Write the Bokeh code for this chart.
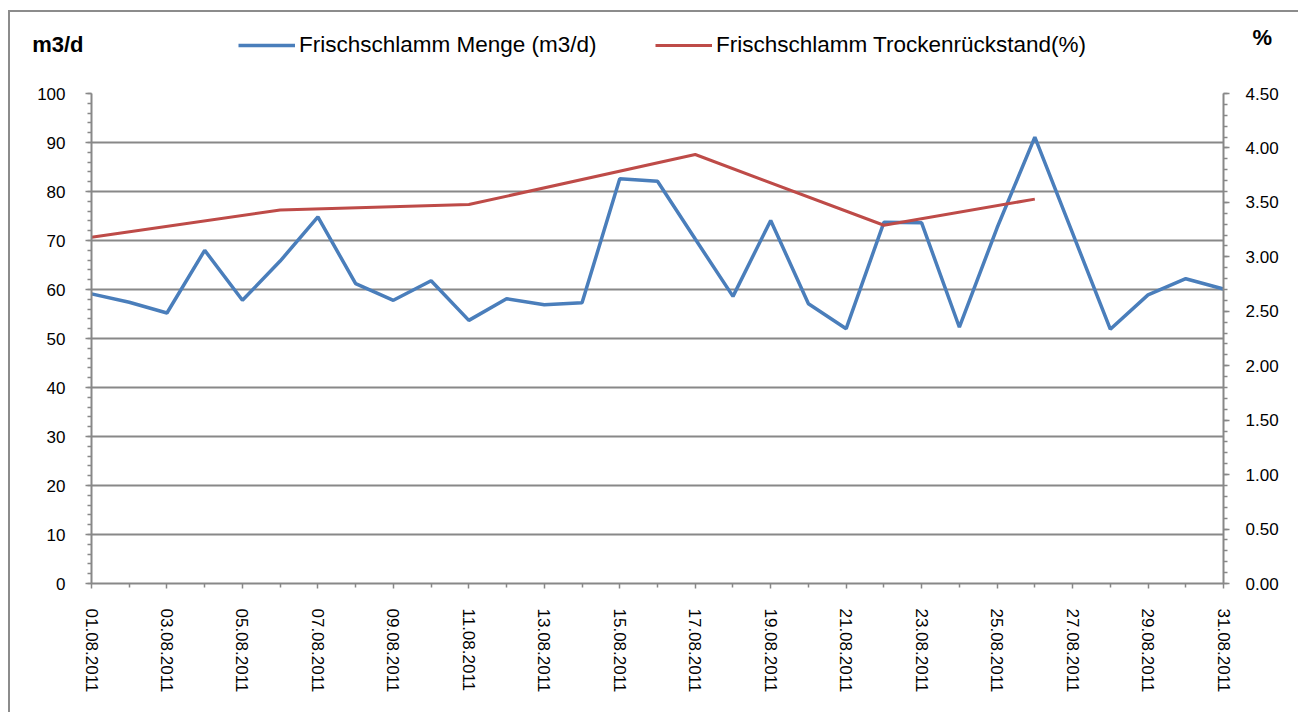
from bokeh.plotting import figure
from bokeh.models import (LinearAxis, Range1d, FixedTicker, Legend, LegendItem,
                          NumeralTickFormatter, Column)
from bokeh.embed import file_html
from bokeh.resources import INLINE

# ---- data ----
days = list(range(1, 32))
date_labels = ["01.08.2011", "02.08.2011", "03.08.2011", "04.08.2011", "05.08.2011",
               "06.08.2011", "07.08.2011", "08.08.2011", "09.08.2011", "10.08.2011",
               "11.08.2011", "12.08.2011", "13.08.2011", "14.08.2011", "15.08.2011",
               "16.08.2011", "17.08.2011", "18.08.2011", "19.08.2011", "20.08.2011",
               "21.08.2011", "22.08.2011", "23.08.2011", "24.08.2011", "25.08.2011",
               "26.08.2011", "27.08.2011", "28.08.2011", "29.08.2011", "30.08.2011",
               "31.08.2011"]
menge = [59.1, 57.4, 55.2, 68.0, 57.8, 65.8, 74.8, 61.2, 57.8, 61.8,
         53.7, 58.1, 56.9, 57.3, 82.6, 82.1, 70.3, 58.6, 74.1, 57.1,
         52.0, 73.7, 73.6, 52.3, 72.6, 91.1, 71.5, 51.9, 58.9, 62.2, 60.1]
tr_days = [1, 6, 11, 17, 22, 26]
tr_values = [3.18, 3.43, 3.48, 3.94, 3.29, 3.53]
left_ticks = [0, 10, 20, 30, 40, 50, 60, 70, 80, 90, 100]
right_ticks = [0.0, 0.5, 1.0, 1.5, 2.0, 2.5, 3.0, 3.5, 4.0, 4.5]
series_names = ["Frischschlamm Menge (m3/d)", "Frischschlamm Trockenrückstand(%)"]
unit_left = "m3/d"
unit_right = "%"

FONT = "Liberation Sans"
GRAY = "#888888"
BORDER = "#8c8c8c"
BLUE = "#4a7ebb"
RED = "#be4b48"
NAN = float("nan")

W = 1298
HEADER_H = 80
MAIN_H = 632
FRAME_L = 91     # page x of the plot frame's left edge (aligned for both figures)

# ---------------- header (legend + unit labels) ----------------
hdr = figure(width=W, height=HEADER_H, output_backend="svg", toolbar_location=None,
             x_range=Range1d(91, 1223), y_range=Range1d(HEADER_H, 0),
             x_axis_type=None, y_axis_type=None,
             min_border_left=0, min_border_right=0,
             min_border_top=0, min_border_bottom=0)
hdr.grid.visible = False
hdr.outline_line_color = None
hdr.background_fill_alpha = 0
hdr.border_fill_alpha = 0


def unit_axis(tick, text, standoff):
    ax = LinearAxis(ticker=FixedTicker(ticks=[tick], minor_ticks=[]),
                    major_label_overrides={tick: text})
    ax.axis_line_color = None
    ax.major_tick_line_color = None
    ax.minor_tick_line_color = None
    ax.major_tick_in = 0
    ax.major_tick_out = 0
    ax.minor_tick_in = 0
    ax.minor_tick_out = 0
    ax.major_label_standoff = standoff
    ax.major_label_text_font = FONT
    ax.major_label_text_font_size = "22px"
    ax.major_label_text_font_style = "bold"
    ax.major_label_text_color = "black"
    return ax


hdr.add_layout(unit_axis(44, unit_left, 8), "left")
hdr.add_layout(unit_axis(37, unit_right, 29), "right")

sw_blue = hdr.line(x=[NAN], y=[NAN], line_color=BLUE, line_width=3.5)
sw_red = hdr.line(x=[NAN], y=[NAN], line_color=RED, line_width=3)


def make_legend(label, r, x, y):
    return Legend(items=[LegendItem(label=label, renderers=[r])], location=(x, y),
                  orientation="horizontal", padding=0, margin=0, spacing=0,
                  border_line_alpha=0, background_fill_alpha=0,
                  glyph_width=57, glyph_height=26, label_standoff=4, label_height=26,
                  label_text_font=FONT, label_text_font_size="22.5px",
                  label_text_color="black", label_text_baseline="middle")


hdr.add_layout(make_legend(series_names[0], sw_blue, 238 - FRAME_L, 22))
hdr.add_layout(make_legend(series_names[1], sw_red, 655 - FRAME_L, 22))

# ---------------- main chart ----------------
p = figure(width=W, height=MAIN_H, output_backend="svg", toolbar_location=None,
           x_range=Range1d(1, 31), y_range=Range1d(0, 100),
           min_border_left=FRAME_L, min_border_right=75, min_border_top=13,
           min_border_bottom=129)
p.outline_line_color = None
p.background_fill_color = "white"
p.border_fill_alpha = 0

p.extra_y_ranges = {"pct": Range1d(0, 4.5)}

blue_r = p.line(days, menge, line_color=BLUE, line_width=3.5)
red_r = p.line(tr_days, tr_values, y_range_name="pct", line_color=RED, line_width=3)


def style_axis(ax, standoff):
    ax.major_label_text_font = FONT
    ax.major_label_text_font_size = "17px"
    ax.major_label_text_color = "black"
    ax.major_label_standoff = standoff
    ax.axis_line_color = GRAY
    ax.axis_line_width = 2
    ax.major_tick_line_color = GRAY
    ax.minor_tick_line_color = GRAY
    ax.major_tick_in = 0
    ax.major_tick_out = 6
    ax.minor_tick_in = 0
    ax.minor_tick_out = 4
    ax.major_tick_line_width = 1.5
    ax.minor_tick_line_width = 1.5


xa = p.xaxis[0]
xa.ticker = FixedTicker(ticks=[d for d in days if d % 2 == 1],
                        minor_ticks=[d for d in days if d % 2 == 0])
xa.major_label_overrides = {d: lab for d, lab in zip(days, date_labels) if d % 2 == 1}
xa.major_label_orientation = "vertical"
style_axis(xa, 20)
xa.major_tick_out = 5

ya = p.yaxis[0]
ya.ticker = FixedTicker(ticks=left_ticks, minor_ticks=list(range(0, 101, 2)))
style_axis(ya, 20)

ra = LinearAxis(y_range_name="pct")
ra.ticker = FixedTicker(ticks=right_ticks, minor_ticks=[i / 10 for i in range(0, 46)])
ra.formatter = NumeralTickFormatter(format="0.00")
style_axis(ra, 16)
p.add_layout(ra, "right")

p.xgrid.visible = False
p.ygrid.ticker = FixedTicker(ticks=left_ticks)
p.ygrid.grid_line_color = GRAY
p.ygrid.grid_line_width = 2

# chart-area frame: grey left and top edges, drawn as the layout's CSS background
layout = Column(children=[hdr, p], spacing=0, styles={
    "background-color": "white",
    "background-image": f"linear-gradient({BORDER}, {BORDER}), linear-gradient({BORDER}, {BORDER})",
    "background-position": "8px 10px, 8px 10px",
    "background-size": "2px 100%, 100% 2px",
    "background-repeat": "no-repeat, no-repeat",
})

open("out.html", "w").write(file_html(layout, INLINE))
